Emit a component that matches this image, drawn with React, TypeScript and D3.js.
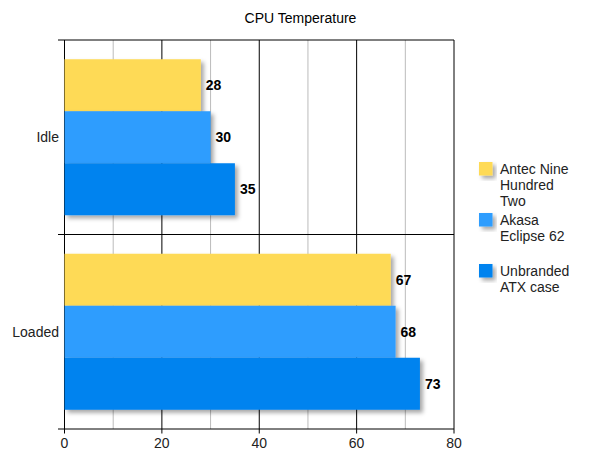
import React from "react";
import * as d3 from "d3";

const title = "CPU Temperature";
const categories = ["Idle", "Loaded"];
const seriesNames = ["Antec Nine Hundred Two", "Akasa Eclipse 62", "Unbranded ATX case"];
const legendLines = [["Antec Nine", "Hundred", "Two"], ["Akasa", "Eclipse 62"], ["Unbranded", "ATX case"]];
const antecValues = [28, 67];
const akasaValues = [30, 68];
const unbrandedValues = [35, 73];
const colors = ["#FEDA57", "#2D9DFE", "#0383EF"];
const xTicks = [0, 20, 40, 60, 80];
const minorTicks = [10, 30, 50, 70];

const W = 600;
const H = 463;
const left = 64.5;
const right = 454;
const top = 40;
const bottom = 429;

export default function App() {
  const values = [antecValues, akasaValues, unbrandedValues];
  const x = d3.scaleLinear().domain([0, 80]).range([left, right]);
  const y = d3.scaleBand<string>().domain(categories).range([top, bottom]).padding(0);
  const yi = d3
    .scaleBand<string>()
    .domain(seriesNames)
    .range([0, y.bandwidth()])
    .paddingInner(0)
    .paddingOuter(0.37);
  const font = "Arial, 'Liberation Sans', sans-serif";
  const legendY = [162, 213, 264];
  return (
    <svg width={W} height={H} style={{ position: "absolute", left: 0, top: 0, background: "#fff" }}>
      <defs>
        <filter id="sh" x="-20%" y="-20%" width="150%" height="160%">
          <feDropShadow dx="3" dy="3" stdDeviation="2" floodColor="#000" floodOpacity="0.35" />
        </filter>
      </defs>
      <text x={300.5} y={22.5} textAnchor="middle" fontFamily={font} fontSize={14} fill="#000">
        {title}
      </text>
      {minorTicks.map((t) => (
        <line key={"m" + t} x1={x(t)} x2={x(t)} y1={top} y2={bottom} stroke="#bbb" strokeWidth={1} />
      ))}
      {xTicks.map((t) => (
        <line key={"g" + t} x1={x(t)} x2={x(t)} y1={top} y2={bottom + 4.5} stroke="#000" strokeWidth={1} />
      ))}
      {[top, y("Loaded")!, bottom].map((v, i) => (
        <line key={"h" + i} x1={58} x2={right} y1={v} y2={v} stroke="#000" strokeWidth={1} />
      ))}
      {categories.map((c, ci) =>
        seriesNames.map((s, si) => {
          const v = values[si][ci];
          const by = y(c)! + yi(s)!;
          return (
            <g key={c + s}>
              <rect
                x={x(0)}
                y={by}
                width={x(v) - x(0)}
                height={yi.bandwidth()}
                fill={colors[si]}
                filter="url(#sh)"
              />
              <text
                x={x(v) + 5}
                y={by + yi.bandwidth() / 2}
                dy="0.36em"
                fontFamily={font}
                fontSize={14}
                fontWeight="bold"
                fill="#000"
              >
                {v}
              </text>
            </g>
          );
        })
      )}
      {categories.map((c) => (
        <text
          key={c}
          x={59}
          y={y(c)! + y.bandwidth() / 2}
          dy="0.36em"
          textAnchor="end"
          fontFamily={font}
          fontSize={14}
          fill="#222"
        >
          {c}
        </text>
      ))}
      {xTicks.map((t) => (
        <text key={"t" + t} x={x(t)} y={448} textAnchor="middle" fontFamily={font} fontSize={14} fill="#222">
          {t}
        </text>
      ))}
      {seriesNames.map((s, i) => (
        <g key={s}>
          <rect x={479} y={legendY[i]} width={13.5} height={13.5} fill={colors[i]} filter="url(#sh)" />
          {legendLines[i].map((ln, li) => (
            <text key={li} x={500} y={legendY[i] + 12 + li * 16} fontFamily={font} fontSize={14} fill="#222">
              {ln}
            </text>
          ))}
        </g>
      ))}
    </svg>
  );
}
